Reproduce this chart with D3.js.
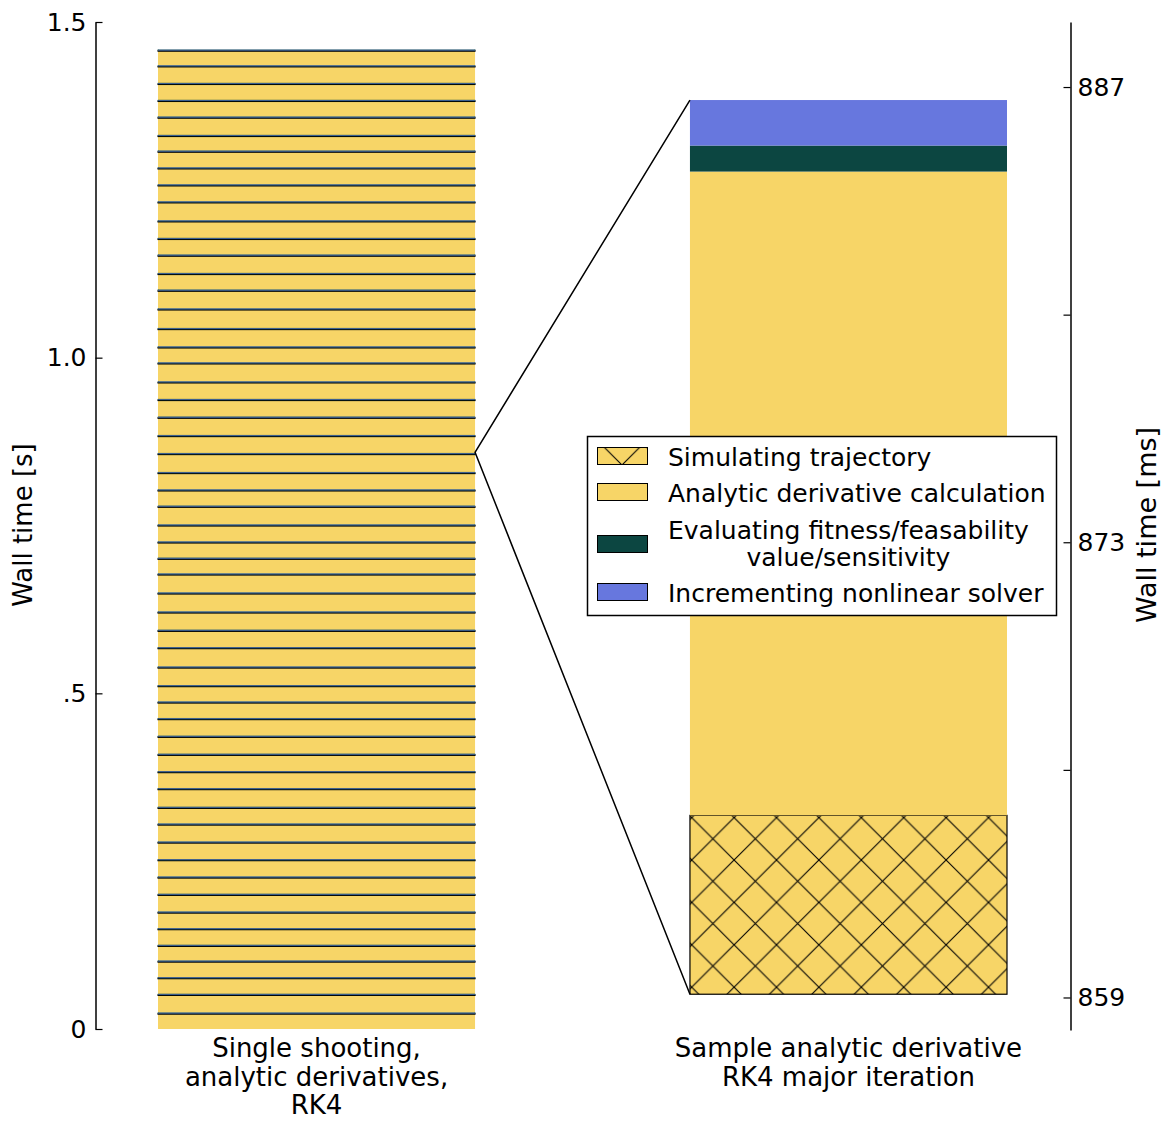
<!DOCTYPE html>
<html>
<head>
<meta charset="utf-8">
<script src="https://cdn.jsdelivr.net/npm/d3@7"></script>
<style>
  body { margin: 0; background: #fff; }
  text { font-family: "DejaVu Sans", sans-serif; fill: #000; }
</style>
</head>
<body>
<svg id="chart" width="1166" height="1122"></svg>
<script>
// ---- data ----
const categories = ['single', 'sample'];
const categoryLines = [
  ['Single shooting,', 'analytic derivatives,', 'RK4'],
  ['Sample analytic derivative', 'RK4 major iteration']
];

// wall time of each major iteration, bottom to top [ms]
const iterationMs = [
  24.3, 27.9, 24.9, 24.7, 23.4, 24.9, 24.7, 26.4, 25.8, 25.9,
  26.2, 26.8, 24.9, 27.9, 25.3, 25.8, 26.8, 26.4, 24.7, 24.4,
  27.7, 28.9, 25.8, 27.3, 28.3, 28.3, 23.4, 24.3, 25.3, 27.9,
  24.3, 25.9, 28.3, 26.8, 27.3, 26.4, 26.2, 28.3, 23.8, 27.4,
  29.2, 27.9, 24.9, 27.3, 24.9, 26.2, 28.3, 25.3, 25.3, 24.9,
  23.4, 27.3, 24.9, 25.3, 26.2, 23.4
];
// time spent per iteration in fitness evaluation and solver increment [ms]
const fitnessMs = 0.8;
const incrementMs = 1.4;

// sample iteration breakdown [ms]
const sampleStart = 859.1;
const phaseNames = ['Simulating trajectory', 'Analytic derivative calculation',
  'Evaluating fitness/feasability\nvalue/sensitivity', 'Incrementing nonlinear solver'];
const phaseMs = [5.5, 19.8, 0.8, 1.4];
const phaseColors = ['#f7d567', '#f7d567', '#0c4641', '#6777de'];

const leftTicks = [0, 0.5, 1.0, 1.5];
const leftTickLabels = ['0', '.5', '1.0', '1.5'];
const rightTicks = [859, 866, 873, 880, 887];
const rightTickLabels = ['859', '', '873', '', '887'];

// ---- layout ----
const svg = d3.select('#chart');
const fontSize = 25;
const labelSize = 26;

const x = d3.scaleBand().domain(categories).range([158, 1007]).paddingInner(0.404);
const yLeft = d3.scaleLinear().domain([0, 1.5]).range([1029, 22]);
const yRight = d3.scaleLinear().domain([858, 889]).range([1030, 22]);

// hatch patterns
const defs = svg.append('defs');
function hatch(id, ox, oy) {
  const s = 42.4;
  const p = defs.append('pattern')
    .attr('id', id)
    .attr('patternUnits', 'userSpaceOnUse')
    .attr('x', ox).attr('y', oy)
    .attr('width', s).attr('height', s);
  p.append('rect').attr('width', s).attr('height', s).attr('fill', phaseColors[0]);
  p.append('path')
    .attr('d', `M${-s / 2},${-s / 2}L${s * 1.5},${s * 1.5}M${-s / 2},${s * 1.5}L${s * 1.5},${-s / 2}`)
    .attr('stroke', '#000').attr('stroke-width', 1.1).attr('fill', 'none');
}
hatch('xhatch', 691.7, 860);
hatch('xhatch-legend', 622, 465);

// ---- left bar: every major iteration stacked ----
const iterations = [];
let t = 0;
iterationMs.forEach(d => {
  iterations.push({
    start: t,
    bodyEnd: t + d - fitnessMs - incrementMs,
    fitEnd: t + d - incrementMs,
    end: t + d
  });
  t += d;
});

const left = svg.append('g').attr('class', 'left-bar');
const bx = x('single'), bw = x.bandwidth();

left.selectAll('rect.body')
  .data(iterations)
  .join('rect')
  .attr('class', 'body')
  .attr('x', bx)
  .attr('width', bw)
  .attr('y', d => yLeft(d.bodyEnd / 1000))
  .attr('height', d => yLeft(d.start / 1000) - yLeft(d.bodyEnd / 1000))
  .attr('fill', phaseColors[1]);

left.selectAll('rect.fit')
  .data(iterations)
  .join('rect')
  .attr('class', 'fit')
  .attr('x', bx)
  .attr('width', bw)
  .attr('y', d => yLeft(d.fitEnd / 1000))
  .attr('height', d => yLeft(d.bodyEnd / 1000) - yLeft(d.fitEnd / 1000))
  .attr('fill', phaseColors[2])
  .attr('stroke', '#000')
  .attr('stroke-width', 1.1);

left.selectAll('rect.inc')
  .data(iterations)
  .join('rect')
  .attr('class', 'inc')
  .attr('x', bx)
  .attr('width', bw)
  .attr('y', d => yLeft(d.end / 1000))
  .attr('height', d => yLeft(d.fitEnd / 1000) - yLeft(d.end / 1000))
  .attr('fill', phaseColors[3])
  .attr('stroke', '#0c4641')
  .attr('stroke-width', 0.4);

// ---- right bar: one sample iteration ----
const phases = [];
let s = sampleStart;
phaseMs.forEach((d, i) => {
  phases.push({ i, start: s, end: s + d });
  s += d;
});

const right = svg.append('g').attr('class', 'right-bar');
const rx = x('sample'), rw = x.bandwidth();
right.selectAll('rect')
  .data(phases)
  .join('rect')
  .attr('x', rx)
  .attr('width', rw)
  .attr('y', d => yRight(d.end))
  .attr('height', d => yRight(d.start) - yRight(d.end))
  .attr('fill', d => d.i === 0 ? 'url(#xhatch)' : phaseColors[d.i])
  .attr('stroke', d => d.i === 0 ? '#000' : 'none')
  .attr('stroke-width', 1.2);

// zoom lines from the sample position on the left bar to the right bar
const zx = bx + bw, zy = yLeft(sampleStart / 1000);
svg.append('path')
  .attr('d', `M${rx},${yRight(s)}L${zx},${zy}L${rx},${yRight(sampleStart)}`)
  .attr('fill', 'none')
  .attr('stroke', '#000')
  .attr('stroke-width', 1.5);

// ---- axes ----
const leftAxis = svg.append('g')
  .attr('transform', 'translate(95.5,0)')
  .call(d3.axisLeft(yLeft)
    .tickValues(leftTicks)
    .tickFormat((d, i) => leftTickLabels[i])
    .tickSizeInner(-7)
    .tickSizeOuter(0)
    .tickPadding(9));

const rightAxis = svg.append('g')
  .attr('transform', 'translate(1070.5,0)')
  .call(d3.axisRight(yRight)
    .tickValues(rightTicks)
    .tickFormat((d, i) => rightTickLabels[i])
    .tickSizeInner(-7)
    .tickSizeOuter(0)
    .tickPadding(7));

[leftAxis, rightAxis].forEach(a => {
  a.select('.domain').attr('stroke-width', 1.5);
  a.selectAll('.tick line').attr('stroke-width', 1.2);
  a.selectAll('.tick text')
    .attr('font-size', fontSize)
    .attr('font-family', '"DejaVu Sans", sans-serif')
    .attr('fill', '#000');
});

svg.append('text')
  .attr('transform', 'translate(32,525) rotate(-90)')
  .attr('text-anchor', 'middle')
  .attr('font-size', labelSize)
  .text('Wall time [s]');

svg.append('text')
  .attr('transform', 'translate(1156,525) rotate(-90)')
  .attr('text-anchor', 'middle')
  .attr('font-size', 27)
  .text('Wall time [ms]');

// category labels under the bars
categories.forEach((c, i) => {
  svg.append('text')
    .attr('text-anchor', 'middle')
    .attr('font-size', labelSize)
    .selectAll('tspan')
    .data(categoryLines[i])
    .join('tspan')
    .attr('x', x(c) + x.bandwidth() / 2)
    .attr('y', (d, j) => 1057 + j * 28.7)
    .text(d => d);
});

// ---- legend ----
const legend = svg.append('g').attr('class', 'legend');
legend.append('rect')
  .attr('x', 587.5).attr('y', 436.5)
  .attr('width', 469).attr('height', 179)
  .attr('fill', '#fff')
  .attr('stroke', '#000')
  .attr('stroke-width', 1.5);

const patchY = [456, 492, 544, 592];
const textY = [[466], [502], [539, 566], [602]];
phaseNames.forEach((name, i) => {
  legend.append('rect')
    .attr('x', 597.5).attr('y', patchY[i] - 8.5)
    .attr('width', 50).attr('height', 17)
    .attr('fill', i === 0 ? 'url(#xhatch-legend)' : phaseColors[i])
    .attr('stroke', '#000')
    .attr('stroke-width', 1);

  const lines = name.split('\n');
  const txt = legend.append('text').attr('font-size', fontSize);
  const spans = txt.selectAll('tspan')
    .data(lines)
    .join('tspan')
    .attr('x', 668)
    .attr('y', (d, j) => textY[i][j])
    .text(d => d);
  if (lines.length > 1) {
    // centre the lines of a multi-line label on each other
    const widths = spans.nodes().map(n => n.getComputedTextLength());
    const maxW = d3.max(widths);
    spans.attr('x', (d, j) => 668 + (maxW - widths[j]) / 2);
  }
});
</script>
</body>
</html>
